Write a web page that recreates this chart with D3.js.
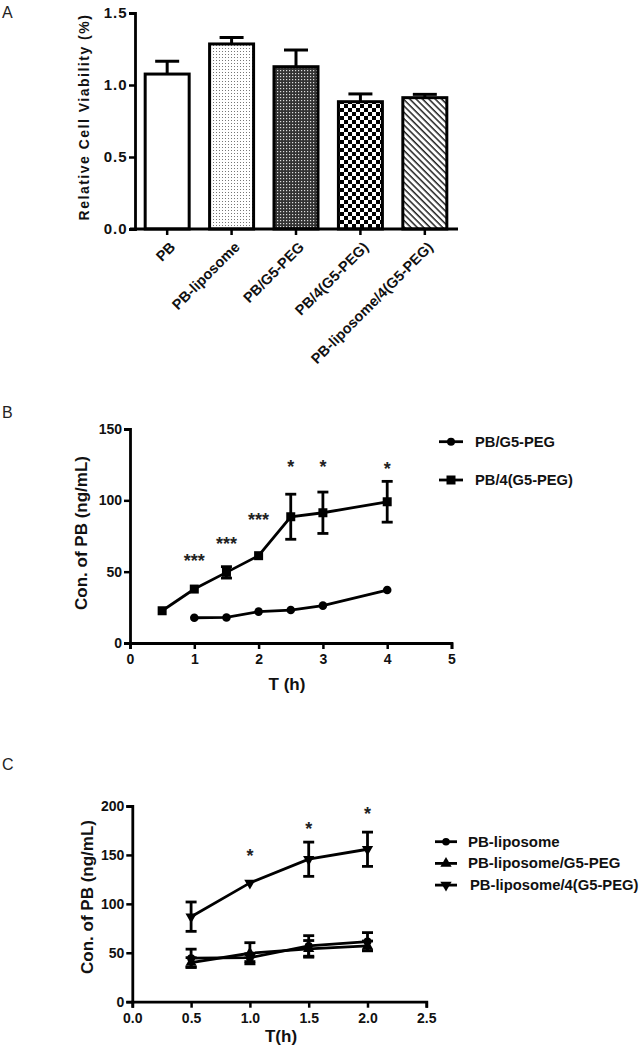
<!DOCTYPE html>
<html><head><meta charset="utf-8">
<script src="https://cdn.jsdelivr.net/npm/d3@7"></script>
<style>
body{margin:0;background:#fff;}
svg{display:block;font-family:"Liberation Sans",Arial,sans-serif;}
.tk text{font-weight:bold;font-size:14px;fill:#111;}
</style></head><body>
<svg id="c" width="643" height="1050"></svg>
<script>
// Panel A data
const catsA = ["PB","PB-liposome","PB/G5-PEG","PB/4(G5-PEG)","PB-liposome/4(G5-PEG)"];
const meanA = [1.076,1.285,1.127,0.884,0.912];
const errA  = [0.089,0.045,0.116,0.054,0.023];
const patA  = ["none","dots","fine","checker","hatch"];
const ticksA = [0,0.5,1.0,1.5];

// Panel B data
const timeB = [0.5,1,1.5,2,2.5,3,4];
const b_g5_x = [1,1.5,2,2.5,3,4];
const b_g5 = [17.7,17.9,22,23.1,26.2,37.1];
const b_4g5 = [22.6,37.8,49.5,61.2,88.5,91.3,99];
const b_4g5_err = [0,0,4,0,15.8,14.5,14.3];
const starsB_x = [1,1.5,2,2.5,3,4];
const starsB = ["***","***","***","*","*","*"];
const starsB_v = [60.5,72.2,89.0,126.2,126.2,124.8];
const ticksBx = [0,1,2,3,4,5];
const ticksBy = [0,50,100,150];

// Panel C data
const timeC = [0.5,1.0,1.5,2.0];
const c_lip = [44.5,45,57,61.4];
const c_lip_err = [9.2,4,10.5,9.2];
const c_lipg5 = [40,49.5,54,57];
const c_lipg5_err = [5,10.8,8.5,5];
const c_lip4 = [86.9,121.4,145.6,155.8];
const c_lip4_err = [15,1.5,17.5,17.5];
const starsC_x = [1.0,1.5,2.0];
const starsC_v = [153.3,181.3,195.9];
const ticksCx = [0,0.5,1.0,1.5,2.0,2.5];
const ticksCy = [0,50,100,150,200];

const svg = d3.select("#c");
const defs = svg.append("defs");

// patterns
const p1 = defs.append("pattern").attr("id","dots").attr("width",3).attr("height",3).attr("patternUnits","userSpaceOnUse");
p1.append("rect").attr("width",3).attr("height",3).attr("fill","#fff");
p1.append("rect").attr("width",1).attr("height",1).attr("fill","#777");
const p2 = defs.append("pattern").attr("id","fine").attr("width",3).attr("height",3).attr("patternUnits","userSpaceOnUse");
p2.append("rect").attr("width",3).attr("height",3).attr("fill","#333");
p2.append("rect").attr("x",1).attr("y",1).attr("width",1.2).attr("height",1.2).attr("fill","#ddd");
const p3 = defs.append("pattern").attr("id","checker").attr("width",8).attr("height",8).attr("patternUnits","userSpaceOnUse");
p3.append("rect").attr("width",8).attr("height",8).attr("fill","#fff");
p3.append("rect").attr("width",4).attr("height",4).attr("fill","#000");
p3.append("rect").attr("x",4).attr("y",4).attr("width",4).attr("height",4).attr("fill","#000");
const p4 = defs.append("pattern").attr("id","hatch").attr("width",4.5).attr("height",4.5).attr("patternUnits","userSpaceOnUse").attr("patternTransform","rotate(45)");
p4.append("rect").attr("width",4.5).attr("height",4.5).attr("fill","#fff");
p4.append("rect").attr("width",4.5).attr("height",1.5).attr("fill","#222");

function panelLabel(t,x,y){
  svg.append("text").attr("x",x).attr("y",y).attr("font-size",16).attr("fill","#222").text(t);
}
function starText(g,x,yc,txt){
  const fs=18;
  g.append("text").attr("x",x).attr("y",yc+0.58*fs).attr("text-anchor","middle")
   .attr("font-weight","bold").attr("font-size",fs).attr("fill","#222").text(txt);
}

// ---------- Panel A ----------
panelLabel("A",2,18);
const yA = d3.scaleLinear().domain([0,1.5]).range([229,13]);
const xA = d3.scaleBand().domain(catsA).range([135,457]).paddingInner(0.317).paddingOuter(0.158);
const gA = svg.append("g");
catsA.forEach((c,i)=>{
  const cx = xA(c)+xA.bandwidth()/2;
  gA.append("line").attr("x1",cx).attr("x2",cx).attr("y1",yA(meanA[i])).attr("y2",yA(meanA[i]+errA[i])).attr("stroke","#000").attr("stroke-width",3);
  gA.append("line").attr("x1",cx-12).attr("x2",cx+12).attr("y1",yA(meanA[i]+errA[i])).attr("y2",yA(meanA[i]+errA[i])).attr("stroke","#000").attr("stroke-width",3);
});
gA.selectAll("rect.bar").data(catsA).join("rect").attr("class","bar")
  .attr("x",d=>xA(d)).attr("width",xA.bandwidth())
  .attr("y",(d,i)=>yA(meanA[i])).attr("height",(d,i)=>yA(0)-yA(meanA[i]))
  .attr("fill",(d,i)=>patA[i]==="none"?"#fff":`url(#${patA[i]})`)
  .attr("stroke","#000").attr("stroke-width",3);
const axAy = gA.append("g").attr("class","tk").attr("transform","translate(135,0)")
  .call(d3.axisLeft(yA).tickValues(ticksA).tickFormat(d3.format(".1f")).tickSize(6).tickPadding(1.5));
axAy.selectAll("text").style("font-size","15px").attr("letter-spacing",1);
const axAx = gA.append("g").attr("class","tk").attr("transform","translate(0,229)")
  .call(d3.axisBottom(xA).tickSize(6).tickPadding(6));
axAx.select(".domain").attr("d","M130,0H458");
axAx.selectAll("text").attr("text-anchor","end").attr("x",0).attr("y",0).attr("dx",0).attr("dy",0)
  .attr("transform","translate(9,19) rotate(-45)").style("font-size","14.5px");
svg.append("text").attr("transform","translate(89,117) rotate(-90)").attr("text-anchor","middle")
  .attr("font-weight","bold").attr("font-size",14).attr("letter-spacing",1.5).attr("fill","#111")
  .text("Relative Cell Viability (%)");

// ---------- Panel B ----------
panelLabel("B",2,418);
const xB = d3.scaleLinear().domain([0,5]).range([130,451.5]);
const yB = d3.scaleLinear().domain([0,150]).range([643,429]);
const gB = svg.append("g");
gB.append("g").attr("class","tk").attr("transform","translate(130,0)")
  .call(d3.axisLeft(yB).tickValues(ticksBy).tickSize(6).tickPadding(2).tickFormat(d3.format("d")));
gB.append("g").attr("class","tk").attr("transform","translate(0,643)")
  .call(d3.axisBottom(xB).tickValues(ticksBx).tickSize(6).tickPadding(5).tickFormat(d3.format("d")));
const line = d3.line();
gB.append("path").attr("d",line(b_g5_x.map((t,i)=>[xB(t),yB(b_g5[i])]))).attr("fill","none").attr("stroke","#000").attr("stroke-width",2.8);
gB.append("path").attr("d",line(timeB.map((t,i)=>[xB(t),yB(b_4g5[i])]))).attr("fill","none").attr("stroke","#000").attr("stroke-width",2.8);
function errBar(g,x,y,lo,hi,w){
  if(Math.abs(y(hi)-y(lo))<3) return;
  g.append("line").attr("x1",x).attr("x2",x).attr("y1",y(lo)).attr("y2",y(hi)).attr("stroke","#000").attr("stroke-width",2.8);
  [lo,hi].forEach(v=>g.append("line").attr("x1",x-w).attr("x2",x+w).attr("y1",y(v)).attr("y2",y(v)).attr("stroke","#000").attr("stroke-width",2.8));
}
timeB.forEach((t,i)=>errBar(gB,xB(t),yB,b_4g5[i]-b_4g5_err[i],b_4g5[i]+b_4g5_err[i],5.5));
gB.selectAll("circle.m").data(b_g5_x).join("circle").attr("cx",d=>xB(d)).attr("cy",(d,i)=>yB(b_g5[i])).attr("r",4.3).attr("fill","#000");
gB.selectAll("rect.m").data(timeB).join("rect").attr("x",d=>xB(d)-4.5).attr("y",(d,i)=>yB(b_4g5[i])-4.5).attr("width",9).attr("height",9).attr("fill","#000");
starsB_x.forEach((t,i)=>starText(gB,xB(t),yB(starsB_v[i]),starsB[i]));
svg.append("text").attr("x",287).attr("y",690).attr("text-anchor","middle").attr("font-weight","bold").attr("font-size",17).attr("fill","#111").text("T (h)");
svg.append("text").attr("transform","translate(87,533) rotate(-90)").attr("text-anchor","middle")
  .attr("font-weight","bold").attr("font-size",17).attr("fill","#111").text("Con. of PB (ng/mL)");
const legB = [["PB/G5-PEG","circle"],["PB/4(G5-PEG)","square"]];
legB.forEach((l,i)=>{
  const ly = 441.7 + i*38.3;
  svg.append("line").attr("x1",439).attr("x2",463).attr("y1",ly).attr("y2",ly).attr("stroke","#000").attr("stroke-width",2.8);
  if(l[1]==="circle") svg.append("circle").attr("cx",451).attr("cy",ly).attr("r",4).attr("fill","#000");
  else svg.append("rect").attr("x",446.5).attr("y",ly-4.5).attr("width",9).attr("height",9).attr("fill","#000");
  svg.append("text").attr("x",475).attr("y",ly+5).attr("font-weight","bold").attr("font-size",14.7).attr("fill","#111").text(l[0]);
});

// ---------- Panel C ----------
panelLabel("C",2,770);
const xC = d3.scaleLinear().domain([0,2.5]).range([132.3,426.3]);
const yC = d3.scaleLinear().domain([0,200]).range([1001.7,806]);
const gC = svg.append("g");
gC.append("g").attr("class","tk").attr("transform","translate(132.3,0)")
  .call(d3.axisLeft(yC).tickValues(ticksCy).tickSize(6).tickPadding(2).tickFormat(d3.format("d")));
gC.append("g").attr("class","tk").attr("transform","translate(0,1001.7)")
  .call(d3.axisBottom(xC).tickValues(ticksCx).tickSize(6).tickPadding(5).tickFormat(d3.format(".1f")));
const seriesC = [[c_lip,c_lip_err,"circle"],[c_lipg5,c_lipg5_err,"up"],[c_lip4,c_lip4_err,"down"]];
seriesC.forEach(s=>{
  gC.append("path").attr("d",line(timeC.map((t,i)=>[xC(t),yC(s[0][i])]))).attr("fill","none").attr("stroke","#000").attr("stroke-width",2.8);
  timeC.forEach((t,i)=>errBar(gC,xC(t),yC,s[0][i]-s[1][i],s[0][i]+s[1][i],5.5));
});
const symUp = d3.symbol().type(d3.symbolTriangle).size(55);
seriesC.forEach(s=>{
  timeC.forEach((t,i)=>{
    const x=xC(t), y=yC(s[0][i]);
    if(s[2]==="circle") gC.append("circle").attr("cx",x).attr("cy",y).attr("r",4).attr("fill","#000");
    else gC.append("path").attr("d",symUp()).attr("transform",`translate(${x},${y})${s[2]==="down"?" rotate(180)":""}`).attr("fill","#000");
  });
});
starsC_x.forEach((t,i)=>starText(gC,xC(t),yC(starsC_v[i]),"*"));
svg.append("text").attr("x",281).attr("y",1042).attr("text-anchor","middle").attr("font-weight","bold").attr("font-size",17).attr("fill","#111").text("T(h)");
svg.append("text").attr("transform","translate(93,897) rotate(-90)").attr("text-anchor","middle")
  .attr("font-weight","bold").attr("font-size",17).attr("fill","#111").text("Con. of PB (ng/mL)");
const legC = [["PB-liposome","circle",468,15],["PB-liposome/G5-PEG","up",468,15],["PB-liposome/4(G5-PEG)","down",470,14.8]];
legC.forEach((l,i)=>{
  const ly = 841.7 + i*21.7;
  svg.append("line").attr("x1",435).attr("x2",457).attr("y1",ly).attr("y2",ly).attr("stroke","#000").attr("stroke-width",2.8);
  if(l[1]==="circle") svg.append("circle").attr("cx",446).attr("cy",ly).attr("r",3.8).attr("fill","#000");
  else svg.append("path").attr("d",symUp()).attr("transform",`translate(446,${ly})${l[1]==="down"?" rotate(180)":""}`).attr("fill","#000");
  svg.append("text").attr("x",l[2]).attr("y",ly+5).attr("font-weight","bold").attr("font-size",l[3]).attr("fill","#111").text(l[0]);
});

// axis styling
svg.selectAll(".tk .domain").attr("stroke","#000").attr("stroke-width",2.8);
svg.selectAll(".tk .tick line").attr("stroke","#000").attr("stroke-width",2.5);
</script></body></html>
